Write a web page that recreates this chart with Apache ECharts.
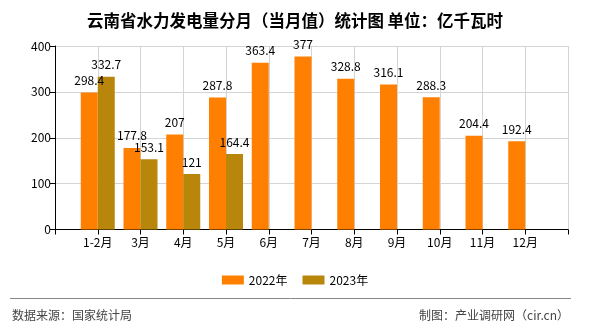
<!DOCTYPE html>
<html>
<head>
<meta charset="utf-8">
<script src="https://cdn.jsdelivr.net/npm/echarts@6/dist/echarts.min.js"></script>
<style>html,body{margin:0;padding:0;background:#fff;}#c{width:590px;height:330px;}</style>
</head>
<body>
<div id="c"></div>
<script>
const categories = ['', '1-2月', '3月', '4月', '5月', '6月', '7月', '8月', '9月', '10月', '11月', '12月', ''];
const values2022 = [null, 298.4, 177.8, 207, 287.8, 363.4, 377, 328.8, 316.1, 288.3, 204.4, 192.4, null];
const values2023 = [null, 332.7, 153.1, 121, 164.4, null, null, null, null, null, null, null, null];
const seriesNames = ['2022年', '2023年'];
const yTicks = {min: 0, max: 400, interval: 100};

const FONT = "'Noto Sans CJK SC', 'DejaVu Sans', sans-serif";
const chart = echarts.init(document.getElementById('c'), null, {renderer: 'canvas'});
const labelCfg = {show: true, position: 'top', distance: 6, color: '#000', fontSize: 12, fontFamily: FONT};
chart.setOption({
  animation: false,
  backgroundColor: '#fff',
  title: {
    text: '云南省水力发电量分月（当月值）统计图 单位：亿千瓦时',
    left: 'center', top: 7,
    textStyle: {fontSize: 16.5, fontWeight: 'bold', color: '#000', fontFamily: FONT}
  },
  legend: {
    data: seriesNames, top: 269, left: 'center',
    itemWidth: 22, itemHeight: 9, itemGap: 15,
    icon: 'rect',
    textStyle: {fontSize: 12, color: '#000', fontFamily: FONT, padding: [0, 0, 0, 0]}
  },
  grid: {left: 55, right: 22, top: 46, bottom: 100.5},
  xAxis: {
    type: 'category', data: categories, boundaryGap: false,
    axisLine: {lineStyle: {color: '#000', width: 1}},
    axisTick: {show: true, length: 5, lineStyle: {color: '#000'}},
    axisLabel: {color: '#000', fontSize: 12, fontFamily: FONT, margin: 7, interval: 0},
    splitLine: {show: true, lineStyle: {color: '#d4d4d4'}}
  },
  yAxis: {
    type: 'value', min: yTicks.min, max: yTicks.max, interval: yTicks.interval,
    axisLine: {show: true, lineStyle: {color: '#000'}},
    axisTick: {show: true, length: 5, lineStyle: {color: '#000'}},
    axisLabel: {color: '#000', fontSize: 12, fontFamily: FONT, margin: 4},
    splitLine: {show: true, lineStyle: {color: '#d4d4d4'}}
  },
  series: [
    {name: seriesNames[0], type: 'bar', data: values2022, barWidth: 17, barGap: '0%',
     itemStyle: {color: '#ff8000'}, label: labelCfg},
    {name: seriesNames[1], type: 'bar', data: values2023, barWidth: 17, barGap: '0%',
     itemStyle: {color: '#b8860b'}, label: labelCfg}
  ],
  graphic: [
    {type: 'line', shape: {x1: 10, y1: 298.5, x2: 571, y2: 298.5}, style: {stroke: '#888', lineWidth: 1}},
    {type: 'text', left: 12, top: 309, style: {text: '数据来源：国家统计局', fontSize: 12, fill: '#444', fontFamily: FONT}},
    {type: 'text', right: 21, top: 309, style: {text: '制图：产业调研网（cir.cn）', fontSize: 12, fill: '#444', fontFamily: FONT}}
  ]
});
</script>
</body>
</html>
